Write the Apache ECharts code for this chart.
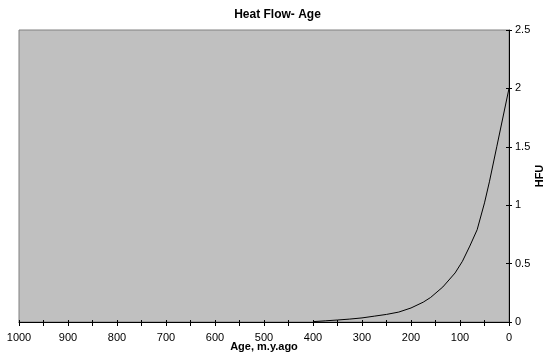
<!DOCTYPE html>
<html>
<head>
<meta charset="utf-8">
<script src="https://cdn.jsdelivr.net/npm/echarts@6/dist/echarts.min.js"></script>
<style>html,body{margin:0;padding:0;background:#fff;}#c{width:555px;height:363px;}</style>
</head>
<body>
<div id="c"></div>
<script>
// Data
const ages = [400, 375, 350, 325, 300, 275, 250, 225, 200, 175, 160, 135, 110, 95, 80, 65, 50, 40, 25, 0];
const hfu  = [0.003, 0.01, 0.017, 0.025, 0.035, 0.05, 0.065, 0.085, 0.12, 0.17, 0.21, 0.30, 0.42, 0.52, 0.65, 0.79, 1.02, 1.2, 1.5, 2.0];
const titleText = 'Heat Flow- Age';
const xName = 'Age, m.y.ago';
const yName = 'HFU';

const font = 'Arial, "Liberation Sans", sans-serif';
const chart = echarts.init(document.getElementById('c'), null, {renderer: 'canvas'});
const points = ages.map((a, i) => [a, hfu[i]]);

chart.setOption({
  animation: false,
  backgroundColor: '#ffffff',
  title: {
    text: titleText, left: 'center', top: 4,
    textStyle: {fontFamily: font, fontSize: 12, fontWeight: 'bold', color: '#000'}
  },
  grid: {
    left: 19, right: 46, top: 30, bottom: 41,
    containLabel: false, outerBoundsMode: 'none',
    show: true, backgroundColor: '#c0c0c0', borderColor: '#808080', borderWidth: 1
  },
  xAxis: [{
    type: 'value', min: 0, max: 1000, interval: 50, inverse: true,
    position: 'bottom',
    name: xName, nameLocation: 'middle', nameGap: 19, nameMoveOverlap: false,
    nameTextStyle: {fontFamily: font, fontSize: 11, fontWeight: 'bold', color: '#000'},
    axisLine: {show: true, lineStyle: {color: '#000', width: 1}},
    axisTick: {show: true, length: 4, lineStyle: {color: '#000'}},
    axisLabel: {interval: 1, margin: 10, fontFamily: font, fontSize: 11, color: '#000',
      formatter: v => (v % 100 === 0 ? String(v) : '')},
    splitLine: {show: false}
  }, {
    type: 'value', min: 0, max: 1000, interval: 50, inverse: true,
    position: 'bottom',
    axisLine: {show: false},
    axisTick: {show: true, inside: true, length: 2, lineStyle: {color: '#000'}},
    axisLabel: {show: false},
    splitLine: {show: false}
  }],
  yAxis: [{
    type: 'value', min: 0, max: 2.5, interval: 0.5, position: 'right',
    name: yName, nameLocation: 'middle', nameGap: 25, nameRotate: 90, nameMoveOverlap: false,
    nameTextStyle: {fontFamily: font, fontSize: 11, fontWeight: 'bold', color: '#000'},
    axisLine: {show: true, lineStyle: {color: '#000', width: 1}},
    axisTick: {show: true, length: 3, lineStyle: {color: '#000'}},
    axisLabel: {margin: 6, fontFamily: font, fontSize: 11, color: '#000'},
    splitLine: {show: false}
  }, {
    type: 'value', min: 0, max: 2.5, interval: 0.5, position: 'right',
    axisLine: {show: false},
    axisTick: {show: true, inside: true, length: 3, lineStyle: {color: '#000'}},
    axisLabel: {show: false},
    splitLine: {show: false}
  }],
  series: [{
    type: 'line', data: points, xAxisIndex: 0, yAxisIndex: 0,
    showSymbol: false, symbol: 'none', smooth: false,
    lineStyle: {color: '#000', width: 1}
  }]
});
</script>
</body>
</html>
